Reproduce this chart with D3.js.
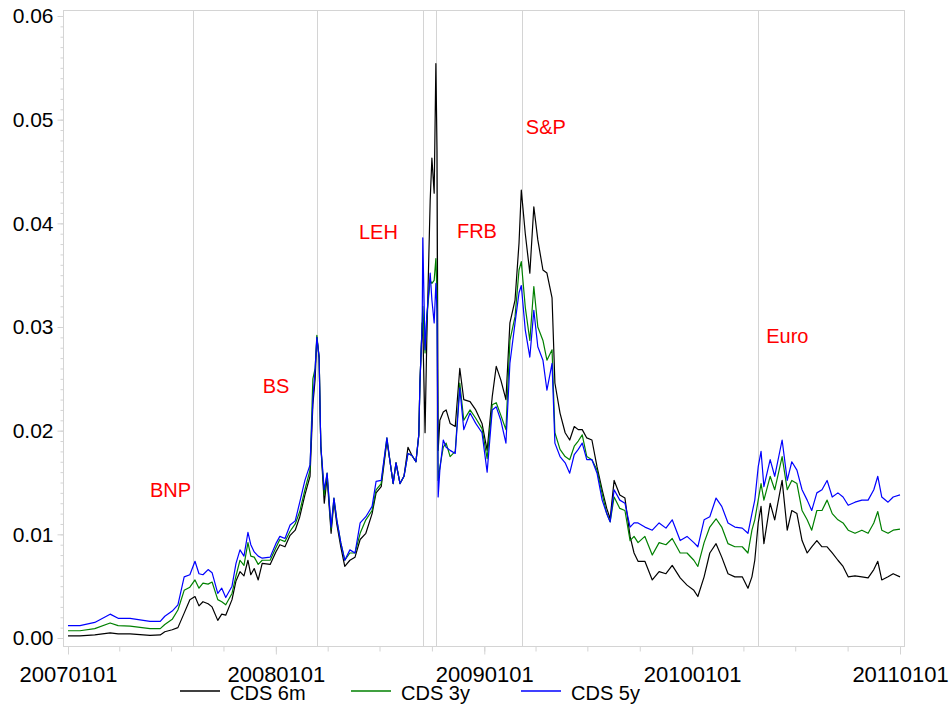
<!DOCTYPE html>
<html>
<head>
<meta charset="utf-8">
<script src="https://cdn.jsdelivr.net/npm/d3@7"></script>
<style>
  body { margin: 0; background: #fff; }
  text { font-family: "Liberation Sans", Arial, sans-serif; }
</style>
</head>
<body>
<svg id="chart" width="951" height="707"></svg>
<script>
// observation dates (YYYYMMDD)
const dates = [
  "20070101","20070122","20070217","20070316","20070330","20070420","20070525","20070612","20070620","20070703",
  "20070713","20070724","20070803","20070812","20070819","20070826","20070904","20070911","20070921","20070928",
  "20071005","20071016","20071023","20071030","20071106","20071113","20071118","20071124","20071201","20071208",
  "20071222","20080101","20080108","20080117","20080126","20080204","20080212","20080221","20080301","20080306",
  "20080310","20080313","20080317","20080319","20080320","20080326","20080331","20080407","20080412","20080417",
  "20080424","20080501","20080510","20080519","20080528","20080607","20080618","20080625","20080704","20080714",
  "20080719","20080725","20080730","20080806","20080813","20080820","20080827","20080903","20080908","20080910",
  "20080914","20080915","20080919","20080922","20080928","20081001","20081005","20081008","20081010","20081012",
  "20081015","20081021","20081026","20081102","20081111","20081119","20081126","20081207","20081217","20081228",
  "20090106","20090115","20090122","20090130","20090208","20090215","20090224","20090303","20090307","20090314",
  "20090322","20090329","20090405","20090414","20090421","20090430","20090505","20090514","20090523","20090531",
  "20090608","20090615","20090622","20090630","20090709","20090718","20090727","20090804","20090810","20090817",
  "20090827","20090905","20090914","20090921","20090928","20091010","20091023","20091104","20091116","20091127",
  "20091211","20091223","20100104","20100111","20100122","20100201","20100212","20100222","20100305","20100317",
  "20100330","20100409","20100416","20100421","20100427","20100502","20100507","20100518","20100526","20100608",
  "20100617","20100625","20100704","20100713","20100722","20100730","20100808","20100817","20100826","20100904",
  "20100914","20100923","20101002","20101014","20101026","20101106","20101116","20101123","20101130","20101211",
  "20101220","20110101"
];

const cds6m = [
  .0002,.0002,.0003,.0005,.0004,.0004,.00025,.0003,.0006,.0008,
  .0010,.0024,.0037,.0040,.0031,.0035,.0033,.0030,.0017,.0023,
  .0022,.0037,.0055,.0064,.0060,.0075,.0061,.0067,.0056,.0072,
  .0071,.0083,.0090,.0088,.0099,.0104,.0117,.0138,.0156,.0225,
  .0250,.0290,.0271,.0210,.0185,.0130,.0155,.0101,.0132,.0110,
  .0088,.0069,.0075,.0078,.0095,.0101,.0120,.0140,.0146,.0190,
  .0172,.0149,.0169,.0149,.0156,.0184,.0176,.0170,.0196,.0246,
  .0304,.0300,.0198,.0287,.0422,.0463,.0429,.0554,.0470,.0181,
  .0210,.0218,.0220,.0207,.0204,.0260,.0230,.0228,.0220,.0207,
  .0181,.0233,.0262,.0249,.0230,.0304,.0326,.0381,.0432,.0390,
  .0352,.0416,.0384,.0355,.0352,.0328,.0246,.0217,.0198,.0191,
  .0204,.0201,.0201,.0193,.0191,.0165,.0143,.0125,.0115,.0152,
  .0138,.0135,.0098,.0082,.0074,.0074,.0056,.0064,.0062,.0070,
  .0058,.0051,.0046,.0040,.0059,.0082,.0091,.0078,.0062,.0059,
  .0059,.0048,.0059,.0075,.0111,.0127,.0091,.0130,.0114,.0152,
  .0104,.0123,.0120,.0094,.0082,.0088,.0094,.0088,.0088,.0082,
  .0075,.0069,.0059,.0060,.0059,.0058,.0066,.0074,.0056,.0059,
  .0062,.0059
];

const cds3y = [
  .0007,.0007,.0009,.00145,.0012,.00115,.0009,.0009,.0013,.0018,
  .0027,.0046,.0049,.0056,.0048,.0053,.0052,.0054,.0037,.0035,
  .0032,.0043,.0060,.0075,.0070,.0092,.0079,.0078,.0071,.0075,
  .0075,.0087,.0095,.0093,.0103,.0110,.0122,.0143,.0162,.0250,
  .0260,.0292,.0270,.0210,.0185,.0138,.0159,.0105,.0135,.0114,
  .0092,.0075,.0082,.0082,.0101,.0114,.0123,.0143,.0149,.0193,
  .0172,.0149,.0169,.0149,.0156,.0178,.0176,.0170,.0196,.0246,
  .0304,.0320,.0275,.0310,.0345,.0342,.0345,.0366,.0330,.0152,
  .0165,.0184,.0188,.0175,.0180,.0246,.0210,.0220,.0212,.0202,
  .0173,.0225,.0227,.0215,.0201,.0287,.0310,.0355,.0363,.0319,
  .0287,.0339,.0300,.0287,.0268,.0278,.0198,.0182,.0175,.0172,
  .0185,.0190,.0196,.0175,.0172,.0162,.0139,.0120,.0112,.0136,
  .0125,.0123,.0094,.0098,.0092,.0098,.0080,.0092,.0090,.0096,
  .0082,.0082,.0075,.0069,.0092,.0107,.0115,.0107,.0091,.0088,
  .0088,.0082,.0104,.0114,.0133,.0149,.0133,.0156,.0143,.0175,
  .0143,.0152,.0149,.0123,.0114,.0104,.0123,.0123,.0133,.0120,
  .0114,.0111,.0104,.0101,.0104,.0101,.0111,.0122,.0104,.0101,
  .0104,.0105
];

const cds5y = [
  .0012,.0012,.0015,.0023,.0019,.0019,.0016,.0016,.0021,.0026,
  .0032,.0059,.0061,.0074,.0062,.0061,.0066,.0063,.0043,.0048,
  .0039,.0050,.0072,.0085,.0079,.0102,.0090,.0083,.0079,.0077,
  .0078,.0091,.0098,.0096,.0109,.0113,.0131,.0152,.0167,.0230,
  .0260,.0290,.0270,.0210,.0185,.0143,.0159,.0107,.0135,.0114,
  .0092,.0075,.0085,.0082,.0111,.0117,.0127,.0151,.0152,.0193,
  .0172,.0149,.0169,.0149,.0156,.0178,.0176,.0170,.0196,.0246,
  .0304,.0386,.0278,.0310,.0352,.0326,.0304,.0342,.0315,.0136,
  .0162,.0191,.0184,.0181,.0178,.0241,.0201,.0217,.0207,.0198,
  .0160,.0220,.0223,.0210,.0188,.0265,.0304,.0333,.0340,.0297,
  .0271,.0316,.0281,.0268,.0239,.0265,.0188,.0175,.0169,.0159,
  .0177,.0182,.0188,.0172,.0172,.0159,.0133,.0120,.0112,.0143,
  .0133,.0130,.0107,.0111,.0111,.0107,.0104,.0111,.0106,.0114,
  .0094,.0098,.0092,.0088,.0114,.0117,.0135,.0127,.0111,.0107,
  .0106,.0101,.0120,.0133,.0165,.0180,.0146,.0172,.0156,.0191,
  .0152,.0170,.0162,.0143,.0133,.0123,.0140,.0143,.0152,.0136,
  .0140,.0136,.0128,.0131,.0133,.0133,.0143,.0156,.0136,.0131,
  .0136,.0138
];

const seriesNames = ["CDS 6m", "CDS 3y", "CDS 5y"];
const seriesColors = ["#000000", "#008000", "#0000ff"];

// events: vertical marker date, label, label anchor (date, value)
const eventDates = ["20070809", "20080314", "20080915", "20081008", "20090309", "20100427"];
const eventLabels = ["BNP", "BS", "LEH", "FRB", "S&P", "Euro"];
const labelDates = ["20070525", "20071209", "20080526", "20081114", "20090315", "20100511"];
const labelValues = [0.0136, 0.0236, 0.0385, 0.0386, 0.0486, 0.0285];

const yTicks = [0, 0.01, 0.02, 0.03, 0.04, 0.05, 0.06];
const xTickLabels = ["20070101", "20080101", "20090101", "20100101", "20110101"];

const parse = d3.timeParse("%Y%m%d");
const svg = d3.select("#chart");

const frame = { left: 63, top: 10, right: 904, bottom: 646 };
const x = d3.scaleTime()
  .domain([parse("20070101"), parse("20110101")])
  .range([68, 900]);
const y = d3.scaleLinear()
  .domain([0, 0.06])
  .range([638, 16]);

const gridColor = "#d4d4d4";

// plot frame
svg.append("rect")
  .attr("x", frame.left + 0.5).attr("y", frame.top + 0.5)
  .attr("width", frame.right - frame.left).attr("height", frame.bottom - frame.top)
  .attr("fill", "none").attr("stroke", gridColor);

// event lines
svg.append("g").selectAll("line")
  .data(eventDates)
  .enter().append("line")
  .attr("x1", d => Math.round(x(parse(d))) + 0.5)
  .attr("x2", d => Math.round(x(parse(d))) + 0.5)
  .attr("y1", frame.top)
  .attr("y2", frame.bottom)
  .attr("stroke", gridColor);

// y axis
const yMinor = svg.append("g")
  .attr("transform", "translate(" + (frame.left + 0.5) + ",0)")
  .call(d3.axisLeft(y).tickValues(d3.range(0, 61).map(i => i / 1000)).tickSize(3).tickFormat(""));
const yAxis = svg.append("g")
  .attr("transform", "translate(" + (frame.left + 0.5) + ",0)")
  .call(d3.axisLeft(y).tickValues(yTicks).tickSize(6).tickPadding(4).tickFormat(d3.format(".2f")));
[yMinor, yAxis].forEach(g => {
  g.select(".domain").remove();
  g.selectAll("line").attr("stroke", gridColor);
});
yAxis.selectAll("text").attr("font-size", 21).attr("fill", "#000");

// x axis
const xMinor = svg.append("g")
  .attr("transform", "translate(0," + (frame.bottom + 0.5) + ")")
  .call(d3.axisBottom(x).tickValues(d3.timeMonth.every(3).range(parse("20070101"), parse("20110102"))).tickSize(5).tickFormat(""));
const xAxis = svg.append("g")
  .attr("transform", "translate(0," + (frame.bottom + 0.5) + ")")
  .call(d3.axisBottom(x).tickValues(xTickLabels.map(parse)).tickSize(8).tickPadding(12).tickFormat(d3.timeFormat("%Y%m%d")));
[xMinor, xAxis].forEach(g => {
  g.select(".domain").remove();
  g.selectAll("line").attr("stroke", gridColor);
});
xAxis.selectAll("text").attr("font-size", 22).attr("fill", "#000");

// series
const series = [cds6m, cds3y, cds5y];
const line = d3.line()
  .x((d, i) => x(parse(dates[i])))
  .y(d => y(d));

svg.append("g").selectAll("path")
  .data(series)
  .enter().append("path")
  .attr("d", d => line(d))
  .attr("fill", "none")
  .attr("stroke", (d, i) => seriesColors[i])
  .attr("stroke-width", 1.2)
  .attr("stroke-linejoin", "round");

// event labels
svg.append("g").selectAll("text")
  .data(eventLabels)
  .enter().append("text")
  .attr("x", (d, i) => x(parse(labelDates[i])))
  .attr("y", (d, i) => y(labelValues[i]))
  .attr("font-size", 20)
  .attr("fill", "#ff0000")
  .text(d => d);

// legend
const legendX = [180, 351, 521];
const legend = svg.append("g").selectAll("g")
  .data(seriesNames)
  .enter().append("g")
  .attr("transform", (d, i) => "translate(" + legendX[i] + ",0)");
legend.append("line")
  .attr("x1", 0).attr("x2", 40)
  .attr("y1", 691).attr("y2", 691)
  .attr("stroke", (d, i) => seriesColors[i])
  .attr("stroke-width", 1.5);
legend.append("text")
  .attr("x", 50).attr("y", 700)
  .attr("font-size", 20)
  .attr("fill", "#000")
  .text(d => d);
</script>
</body>
</html>
